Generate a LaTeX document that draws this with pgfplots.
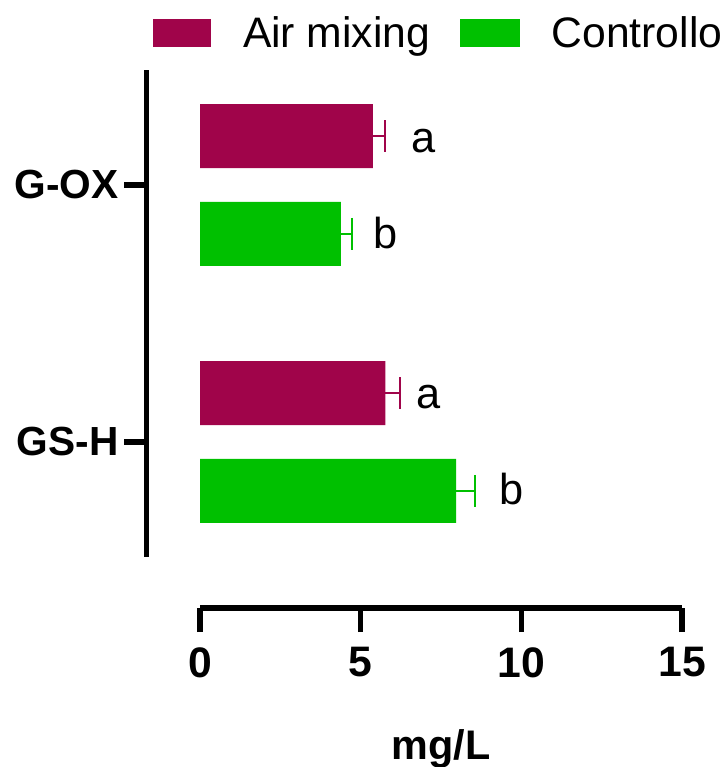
\documentclass[border=0pt]{standalone}
\usepackage{pgfplots}
\pgfplotsset{compat=1.18}
\usepackage{fontspec}
\setmainfont{Liberation Sans}
\definecolor{airc}{RGB}{160,4,74}
\definecolor{ctrlc}{RGB}{0,192,0}
\begin{document}
\begin{tikzpicture}
\useasboundingbox (0pt,0pt) rectangle (544.5pt,575.25pt);
\begin{axis}[
  name=main,
  at={(110.025pt,157.5pt)}, anchor=south west,
  scale only axis,
  width=401.5pt, height=365.25pt,
  xmin=-1.659, xmax=15,
  ymin=-0.4475, ymax=1.4475,
  xbar,
  axis x line=none,
  axis y line*=left,
  axis line style={-, line width=4pt},
  ytick={0,1}, yticklabels={GS-H,G-OX},
  ytick align=outside, major tick length=17pt,
  tick style={line width=4pt, black},
  yticklabel style={font=\bfseries\fontsize{30.5}{30.5}\selectfont, inner sep=0pt, xshift=-4pt},
  legend style={draw=none, fill=none, inner sep=0pt, outer sep=0pt,
    at={(0.0118,1.076)}, anchor=west,
    font=\fontsize{32}{32}\selectfont,
    nodes={inner sep=0pt},
    /tikz/every odd column/.append style={column sep=24pt},
    /tikz/every even column/.append style={column sep=22pt}},
  legend columns=2,
  clip=false,
]
\addplot[fill=airc, draw=none, bar width=0.249, bar shift=0.19,
  legend image code/.code={\fill[airc] (0pt,-10.5pt) rectangle (43.5pt,10.5pt);},
  error bars/.cd, x dir=plus, x explicit,
  error bar style={line width=1.5pt, airc},
  error mark options={rotate=90, airc, line width=1.5pt, mark size=11.9pt}]
  coordinates {(5.38,1) +- (0.39,0) (5.77,0) +- (0.45,0)};
\addlegendentry{Air mixing}
\addplot[fill=ctrlc, draw=none, bar width=0.249, bar shift=-0.19,
  legend image code/.code={\fill[ctrlc] (0pt,-10.5pt) rectangle (45pt,10.5pt);},
  error bars/.cd, x dir=plus, x explicit,
  error bar style={line width=1.5pt, ctrlc},
  error mark options={rotate=90, ctrlc, line width=1.5pt, mark size=11.9pt}]
  coordinates {(4.38,1) +- (0.34,0) (7.97,0) +- (0.59,0)};
\addlegendentry{Controllo}
\node[anchor=base west, inner sep=0pt, font=\fontsize{32.5}{32.5}\selectfont] at (axis cs:6.57,1.128) {a};
\node[anchor=base west, inner sep=0pt, font=\fontsize{32.5}{32.5}\selectfont] at (axis cs:5.375,0.751) {b};
\node[anchor=base west, inner sep=0pt, font=\fontsize{32.5}{32.5}\selectfont] at (axis cs:6.72,0.132) {a};
\node[anchor=base west, inner sep=0pt, font=\fontsize{32.5}{32.5}\selectfont] at (axis cs:9.31,-0.245) {b};
\end{axis}
\begin{axis}[
  at={(150pt,119.25pt)}, anchor=south west,
  scale only axis, width=361.5pt, height=10pt,
  xmin=0, xmax=15, ymin=0, ymax=1,
  axis x line*=bottom, axis y line=none,
  xtick={0,5,10,15}, xtick align=outside, major tick length=18pt,
  axis line style={-, line width=4pt},
  tick style={line width=4pt, black},
  /pgf/number format/assume math mode=true,
  xticklabel style={font=\bfseries\fontsize{32}{32}\selectfont, yshift=-8pt},
  xlabel={mg/L},
  xlabel style={font=\bfseries\fontsize{31}{31}\selectfont, at={(axis description cs:0.5,0)}, anchor=base, yshift=-113.25pt},
]
\end{axis}
\end{tikzpicture}
\end{document}
